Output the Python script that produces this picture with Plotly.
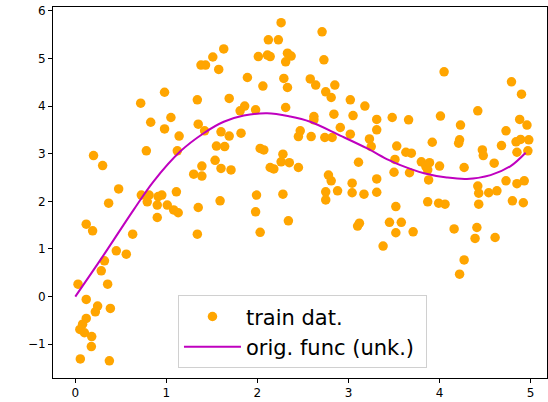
import plotly.graph_objects as go

train_x = [0.20, 0.30, 0.476, 0.718, 0.98, 0.828, 0.98, 1.05, 1.14, 0.78, 1.12, 1.34, 1.35, 1.42, 1.38, 1.43, 1.51, 1.575,
           1.55, 1.535, 1.39, 1.30, 1.39, 0.725, 0.81, 0.91, 0.95, 1.11,
           0.366, 0.79, 0.90, 1.01, 1.08, 1.13, 0.90, 1.35, 1.34, 1.59,
           0.12, 0.19, 0.63, 0.45, 0.56, 0.32, 0.285, 0.03, 0.355, 0.12, 0.245, 0.22, 0.385, 0.12, 0.08, 0.05, 0.10,
           0.18, 0.176, 0.055, 0.374,
           2.26, 2.71, 2.12, 2.23, 1.63, 2.01, 2.11, 2.14, 2.33, 2.37, 2.31, 2.73, 1.89, 2.29, 2.06, 2.33, 2.58, 2.64,
           2.85, 2.75, 2.81, 3.02, 3.18, 1.69, 1.86, 1.81, 1.98, 2.31, 2.62, 2.62, 2.84, 3.05, 3.31, 1.60, 1.69, 1.82,
           2.47, 2.45, 2.59, 2.91, 2.74, 2.82, 3.02, 3.23, 3.25, 3.31, 1.64, 1.60, 1.71, 2.03, 2.07, 2.28, 2.26, 2.35,
           2.45, 2.14, 2.18, 3.11, 3.31, 2.78, 2.81, 3.04, 3.04, 2.88, 2.75, 3.17, 3.31, 1.99, 2.28,
           1.98, 2.03, 2.34, 2.75, 3.12, 3.10, 3.38,
           4.05, 4.79, 4.90, 4.42, 4.01, 3.48, 3.66, 4.23, 4.88, 4.96, 4.73, 3.53, 3.92, 4.22, 4.21, 4.84, 4.89, 4.98,
           4.68, 4.47, 4.48, 4.85, 4.97, 3.51, 3.63, 3.69, 3.80, 3.89, 3.85, 3.87, 4.00, 4.27, 4.60, 3.50, 3.67, 3.88,
           4.73, 4.85, 4.93, 4.42, 4.43, 4.54, 4.63,
           3.87, 3.99, 4.06, 4.43, 4.80, 4.92, 3.52, 3.45, 3.58, 3.52, 3.71, 4.16, 4.41, 4.39, 4.61, 4.27, 4.22]
train_y = [2.96, 2.75, 2.26, 4.06, 4.29, 3.66, 3.52, 3.76, 3.37, 3.06, 3.06, 4.13, 3.62, 3.48, 4.86, 4.86, 5.03, 4.77,
           3.16, 2.86, 2.74, 2.57, 2.53, 2.13, 2.13, 2.10, 2.13, 2.20,
           1.96, 1.99, 1.92, 1.92, 1.82, 1.76, 1.66, 1.87, 1.31, 2.01,
           1.52, 1.38, 1.31, 0.96, 0.89, 0.75, 0.54, 0.26, 0.26, -0.06, -0.20, -0.32, -0.25, -0.46, -0.58, -0.69, -0.76,
           -0.84, -1.05, -1.31, -1.35,
           5.75, 5.56, 5.39, 5.39, 5.20, 5.04, 5.07, 5.04, 5.11, 5.05, 4.93, 4.97, 4.60, 4.58, 4.42, 4.39, 4.57, 4.44,
           4.44, 4.30, 4.18, 4.13, 4.00, 4.16, 4.00, 3.90, 3.92, 3.97, 3.78, 3.71, 3.83, 3.80, 3.72, 3.46, 3.37, 3.43,
           3.48, 3.36, 3.36, 3.55, 3.34, 3.34, 3.41, 3.31, 3.15, 3.50, 3.15, 2.69, 2.66, 3.11, 3.08, 2.99, 2.83, 2.81,
           2.71, 2.71, 2.68, 2.82, 2.47, 2.55, 2.43, 2.38, 2.18, 2.22, 2.20, 2.15, 2.19, 2.13, 2.15,
           1.78, 1.35, 1.59, 2.03, 1.54, 1.48, 1.06,
           4.72, 4.51, 4.25, 3.90, 3.79, 3.76, 3.71, 3.60, 3.72, 3.60, 3.48, 3.16, 3.24, 3.29, 3.22, 3.25, 3.30, 3.29,
           3.17, 3.08, 2.96, 3.03, 3.06, 2.88, 3.03, 3.01, 2.83, 2.81, 2.73, 2.66, 2.74, 2.71, 2.80, 2.61, 2.60, 2.45,
           2.43, 2.37, 2.43, 2.32, 2.17, 2.18, 2.22,
           1.99, 1.96, 1.94, 1.94, 2.01, 1.97, 1.89, 1.56, 1.56, 1.34, 1.36, 1.42, 1.45, 1.22, 1.24, 0.77, 0.47]

func_x = [0.0, 0.311, 0.64, 0.86, 1.154, 1.41, 1.63, 1.85, 2.107, 2.36, 2.58, 2.91, 3.205, 3.44, 3.57, 3.83,
          4.08, 4.30, 4.56, 4.78, 4.945]
func_y = [0.0, 0.87, 1.82, 2.42, 3.05, 3.43, 3.67, 3.80, 3.85, 3.78, 3.67, 3.38, 3.11, 2.87, 2.76, 2.59,
          2.50, 2.47, 2.55, 2.74, 3.02]

x_ticks = [0, 1, 2, 3, 4, 5]
y_ticks = [-1, 0, 1, 2, 3, 4, 5, 6]

fig = go.Figure()
fig.add_trace(go.Scatter(x=train_x, y=train_y, mode="markers", name="train dat.",
                         marker=dict(color="#FFA500", size=9.5, line=dict(width=0))))
fig.add_trace(go.Scatter(x=func_x, y=func_y, mode="lines", name="orig. func (unk.)\u00a0",
                         line=dict(color="#BF00BF", width=2, shape="spline", smoothing=1.0)))

axis_common = dict(showgrid=False, zeroline=False, showline=True, linecolor="black", linewidth=1,
                   mirror=True, ticks="outside", ticklen=4, tickcolor="black",
                   tickfont=dict(family="DejaVu Sans", size=12, color="black"))
fig.update_xaxes(range=[-0.245, 5.18], tickvals=x_ticks, **axis_common)
fig.update_yaxes(range=[-1.71, 6.08], tickvals=y_ticks, **axis_common)

fig.update_layout(
    width=548, height=402,
    margin=dict(l=53, r=1, t=7, b=24),
    plot_bgcolor="white", paper_bgcolor="white",
    legend=dict(x=0.505, xanchor="center", y=0.026, yanchor="bottom", itemwidth=57,
                bgcolor="rgba(255,255,255,0.8)", bordercolor="#d0d0d0", borderwidth=1,
                font=dict(family="DejaVu Sans", size=21, color="black")),
)
fig.write_html("out.html", config={"displayModeBar": False},
               post_script="document.body.style.margin='0px';document.body.style.overflow='hidden';")
